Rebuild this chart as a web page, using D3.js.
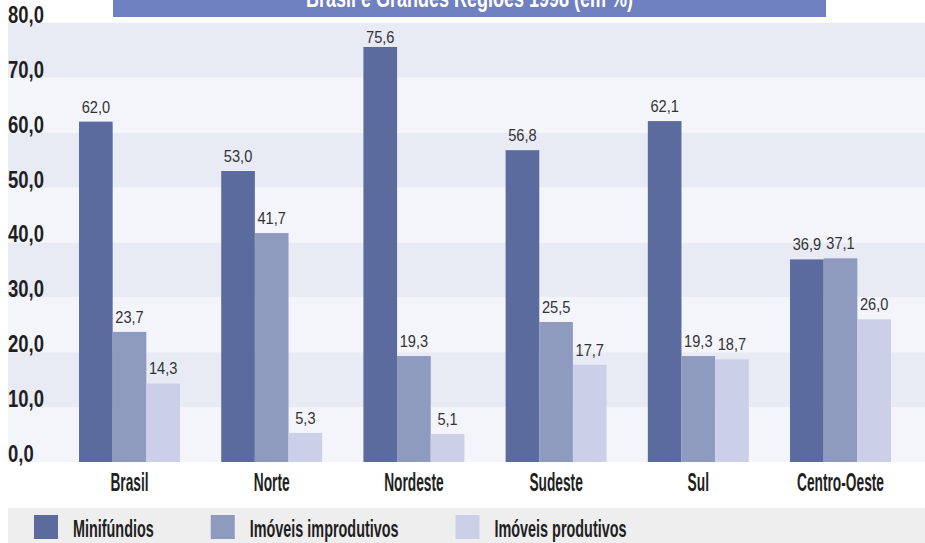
<!DOCTYPE html>
<html>
<head>
<meta charset="utf-8">
<script src="https://cdn.jsdelivr.net/npm/d3@7"></script>
<style>
  html, body { margin: 0; padding: 0; background: #ffffff; }
  svg { display: block; }
</style>
</head>
<body>
<svg id="chart" width="925" height="543"></svg>
<script>
// Estrutura fundiária — Brasil e Grandes Regiões 1998 (em %)
const title = "Brasil e Grandes Regiões 1998 (em %)";
const regions = ["Brasil", "Norte", "Nordeste", "Sudeste", "Sul", "Centro-Oeste"];
const seriesNames = ["Minifúndios", "Imóveis improdutivos", "Imóveis produtivos"];
const minifundios   = [62.0, 53.0, 75.6, 56.8, 62.1, 36.9];
const improdutivos  = [23.7, 41.7, 19.3, 25.5, 19.3, 37.1];
const produtivos    = [14.3,  5.3,  5.1, 17.7, 18.7, 26.0];
const yTicks = [0, 10, 20, 30, 40, 50, 60, 70, 80];
const colors = ["#5b6b9e", "#8f9abf", "#cbcfe7"];

const series = [minifundios, improdutivos, produtivos];
const fmt = v => v.toFixed(1).replace(".", ",");

const svg = d3.select("#chart");
const W = 925;
const family = "'Liberation Sans', Arial, sans-serif";

// horizontally compressed text helper (condensed look)
function cText(parent, x, y, txt, opts) {
  const o = Object.assign({ size: 25, sx: 0.55, anchor: "start", fill: "#1f1f1f", weight: "bold" }, opts || {});
  return parent.append("text")
    .attr("transform", `translate(${x},${y}) scale(${o.sx},1)`)
    .attr("text-anchor", o.anchor)
    .attr("font-family", family)
    .attr("font-weight", o.weight)
    .attr("font-size", o.size)
    .attr("fill", o.fill)
    .text(txt);
}

const x0 = d3.scaleBand().domain(regions).range([58.4, 911.6]).paddingInner(0.29).paddingOuter(0.145);
const x1 = d3.scaleBand().domain(d3.range(series.length)).range([0, x0.bandwidth()]);
const y = d3.scaleLinear().domain([0, 80]).range([462, 22.8]);

// alternating background bands between gridlines
const bands = svg.append("g");
for (let i = 0; i < yTicks.length - 1; i++) {
  const lo = yTicks[i], hi = yTicks[i + 1];
  bands.append("rect")
    .attr("x", 8).attr("width", W - 8)
    .attr("y", y(hi)).attr("height", y(lo) - y(hi))
    .attr("fill", i % 2 === 0 ? "#f4f5fb" : "#e8eaf4");
}

// title bar
svg.append("rect").attr("x", 113).attr("y", 0).attr("width", 713).attr("height", 17).attr("fill", "#6f80c0");
cText(svg, 469.5, 7, title, { anchor: "middle", fill: "#ffffff", sx: 0.72 });

// y axis labels
const yAxis = svg.append("g");
yTicks.forEach(t => cText(yAxis, 8, y(t), fmt(t), { size: 24, sx: 0.77 }));

// bars
const groups = svg.append("g").selectAll("g").data(regions).join("g")
  .attr("transform", d => `translate(${x0(d)},0)`);

series.forEach((vals, si) => {
  groups.append("rect")
    .attr("x", x1(si))
    .attr("width", x1.bandwidth())
    .attr("y", (d, i) => y(vals[i]))
    .attr("height", (d, i) => y(0) - y(vals[i]))
    .attr("fill", colors[si]);
});

// value labels
series.forEach((vals, si) => {
  groups.append("text")
    .attr("transform", (d, i) =>
      `translate(${x1(si) + x1.bandwidth() / 2},${Math.max(y(vals[i]) - 9, y(80) + 20)}) scale(0.86,1)`)
    .attr("text-anchor", "middle")
    .attr("font-family", family)
    .attr("font-size", 17)
    .attr("fill", "#333333")
    .text((d, i) => fmt(vals[i]));
});

// category labels
regions.forEach(r => cText(svg, x0(r) + x0.bandwidth() / 2, 491, r, { anchor: "middle" }));

// legend
svg.append("rect").attr("x", 8).attr("y", 508).attr("width", W - 8).attr("height", 35).attr("fill", "#eeeeee");
let lx = 34;
seriesNames.forEach((name, i) => {
  svg.append("rect").attr("x", lx).attr("y", 515).attr("width", 24).attr("height", 24).attr("fill", colors[i]);
  const t = cText(svg, lx + 39, 537, name, { size: 24, sx: 0.6 });
  const w = t.node().getComputedTextLength() * 0.6;
  lx = lx + 39 + w + 57;
});
</script>
</body>
</html>
